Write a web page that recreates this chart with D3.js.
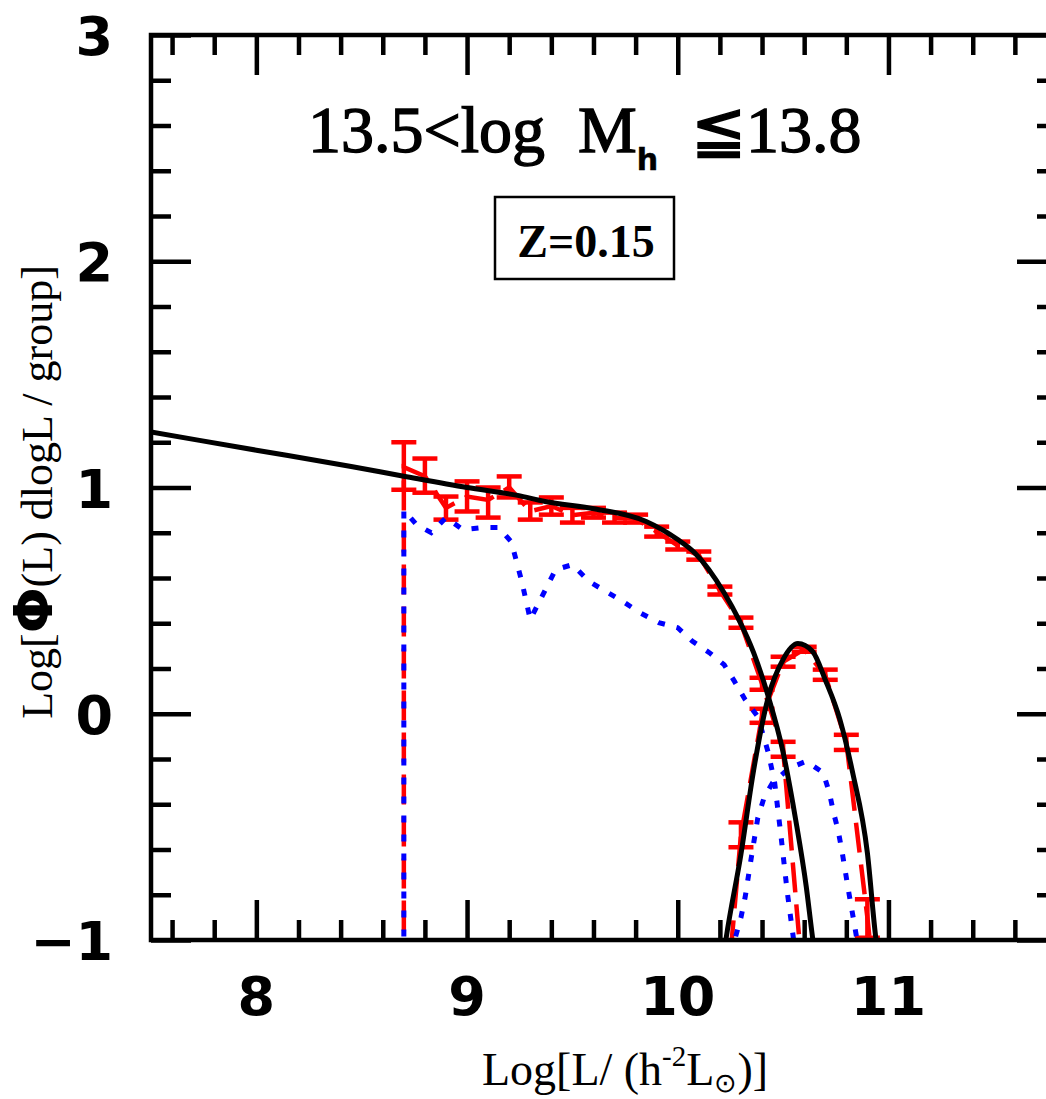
<!DOCTYPE html>
<html>
<head>
<meta charset="utf-8">
<script src="https://cdn.jsdelivr.net/npm/d3@7"></script>
<style>
  html, body { margin: 0; padding: 0; background: #fff; }
  svg { display: block; }
  text { white-space: pre; }
</style>
</head>
<body>
<svg id="chart" width="1046" height="1099"></svg>
<script>
// tick values
const xMajor = [8, 9, 10, 11];
const yMajor = [-1, 0, 1, 2, 3];

// satellite data: bin centres, error bar ends, connecting values
const satX  = [8.7, 8.8, 8.9, 9.0, 9.1, 9.2, 9.3, 9.4, 9.5, 9.6, 9.7, 9.8, 9.9, 10.0, 10.1, 10.2, 10.3, 10.4, 10.5];
const satLo = [0.99, 0.977, 0.858, 0.894, 0.867, 0.956, 0.858, 0.88, 0.845, 0.867, 0.845, 0.845, 0.783, 0.726, 0.681, 0.527, 0.38, 0.106, -0.19];
const satHi = [1.20, 1.128, 0.96, 1.027, 1.0, 1.049, 0.934, 0.956, 0.91, 0.91, 0.889, 0.88, 0.827, 0.761, 0.717, 0.562, 0.425, 0.159, -0.124];
const satLine = [[8.7, -3], [8.7, 1.09], [8.8, 1.05], [8.9, 0.91], [9.0, 0.96], [9.1, 0.945], [9.2, 1.0], [9.3, 0.895],
  [9.4, 0.918], [9.5, 0.878], [9.6, 0.888], [9.7, 0.867], [9.8, 0.862], [9.9, 0.805], [10.0, 0.743], [10.1, 0.70],
  [10.2, 0.545], [10.3, 0.40], [10.4, 0.132], [10.5, -0.157], [10.6, -1.25]];

// central data
const cenX  = [10.3, 10.4, 10.5, 10.6, 10.7, 10.8, 10.9];
const cenLo = [-0.59, -0.04, 0.208, 0.274, 0.150, -0.16, -0.99];
const cenHi = [-0.48, 0.022, 0.252, 0.296, 0.195, -0.093, -0.82];
const cenLine = [[10.2, -1.6], [10.3, -0.535], [10.4, -0.01], [10.5, 0.23], [10.6, 0.285], [10.7, 0.17],
  [10.8, -0.125], [10.9, -0.9], [11.0, -1.8]];

// model (blue dotted)
const satModel = [[8.7, -3], [8.7, 0.90], [8.76, 0.836], [8.83, 0.80], [8.9, 0.867], [8.98, 0.814], [9.07, 0.823],
  [9.15, 0.823], [9.21, 0.76], [9.26, 0.584], [9.30, 0.416], [9.34, 0.49], [9.42, 0.637], [9.50, 0.659],
  [9.58, 0.584], [9.66, 0.54], [9.74, 0.496], [9.82, 0.447], [9.91, 0.403], [10.0, 0.38], [10.07, 0.32],
  [10.15, 0.27], [10.22, 0.217], [10.27, 0.142], [10.32, 0.062], [10.38, -0.013], [10.43, -0.173],
  [10.46, -0.305], [10.49, -0.54], [10.52, -0.79], [10.55, -1.0], [10.57, -1.2]];
const cenModel = [[10.25, -1.15], [10.27, -1.0], [10.30, -0.9], [10.32, -0.81], [10.35, -0.63], [10.38, -0.46],
  [10.41, -0.37], [10.45, -0.305], [10.53, -0.24], [10.61, -0.21], [10.69, -0.26], [10.72, -0.35],
  [10.74, -0.44], [10.76, -0.51], [10.78, -0.61], [10.81, -0.78], [10.84, -0.94], [10.86, -1.05]];

// fits (black solid)
const satFit = [[7.5, 1.245], [8.0, 1.165], [8.45, 1.093], [8.7, 1.05], [9.0, 1.0], [9.24, 0.965], [9.37, 0.938],
  [9.61, 0.905], [9.85, 0.85], [10.0, 0.77], [10.08, 0.712], [10.22, 0.535], [10.29, 0.416], [10.36, 0.27],
  [10.43, 0.075], [10.50, -0.17], [10.56, -0.47], [10.61, -0.765], [10.64, -0.99], [10.66, -1.12]];
const cenFit = [[10.21, -1.12], [10.23, -0.99], [10.30, -0.62], [10.36, -0.25], [10.43, 0.075], [10.50, 0.24],
  [10.57, 0.31], [10.64, 0.275], [10.70, 0.15], [10.77, -0.027], [10.83, -0.26], [10.90, -0.615],
  [10.94, -0.99], [10.96, -1.12]];

const svg = d3.select('#chart');
const plotLeft = 151, plotTop = 35, plotBottom = 940;
const x = d3.scaleLinear().domain([7.5, 11.8]).range([plotLeft, plotLeft + 4.3 * 210.7]);
const y = d3.scaleLinear().domain([-1, 3]).range([plotBottom, plotTop]);
const plotRight = x(11.8);

svg.append('defs').append('clipPath').attr('id', 'plot')
  .append('rect').attr('x', plotLeft).attr('y', plotTop)
  .attr('width', plotRight - plotLeft).attr('height', plotBottom - plotTop);

const plot = svg.append('g').attr('clip-path', 'url(#plot)');
const line = d3.line().x(d => x(d[0])).y(d => y(d[1]));
const smooth = d3.line().x(d => x(d[0])).y(d => y(d[1])).curve(d3.curveMonotoneX);

// red dashed data lines
[satLine, cenLine].forEach(pts => {
  plot.append('path').attr('d', line(pts)).attr('fill', 'none')
    .attr('stroke', '#ff0000').attr('stroke-width', 4.5).attr('stroke-dasharray', '30,12');
});

// error bars
const drawBars = (xs, lo, hi) => {
  const g = plot.append('g').attr('stroke', '#ff0000').attr('stroke-width', 4.5);
  xs.forEach((v, i) => {
    const cx = x(v);
    g.append('line').attr('x1', cx).attr('x2', cx).attr('y1', y(lo[i])).attr('y2', y(hi[i]));
    [lo[i], hi[i]].forEach(e => {
      g.append('line').attr('x1', cx - 12.5).attr('x2', cx + 12.5).attr('y1', y(e)).attr('y2', y(e));
    });
  });
};
drawBars(satX, satLo, satHi);
drawBars(cenX, cenLo, cenHi);

// blue dotted model
[satModel, cenModel].forEach(pts => {
  plot.append('path').attr('d', line(pts)).attr('fill', 'none')
    .attr('stroke', '#0000ff').attr('stroke-width', 5).attr('stroke-dasharray', '7,12');
});

// black fits
[satFit, cenFit].forEach(pts => {
  plot.append('path').attr('d', smooth(pts)).attr('fill', 'none')
    .attr('stroke', '#000').attr('stroke-width', 5).attr('stroke-linejoin', 'round');
});

// frame
svg.append('rect').attr('x', plotLeft).attr('y', plotTop)
  .attr('width', plotRight - plotLeft).attr('height', plotBottom - plotTop)
  .attr('fill', 'none').attr('stroke', '#000').attr('stroke-width', 4.5);

// ticks
const xMinor = d3.range(7.6, 11.8, 0.2).map(v => +v.toFixed(1)).filter(v => !xMajor.includes(v));
const yMinor = d3.range(-0.8, 3, 0.2).map(v => +v.toFixed(1)).filter(v => !yMajor.includes(v));

const tickAxis = (axis, vals, size, tx, ty) => {
  const g = svg.append('g').attr('transform', `translate(${tx},${ty})`)
    .call(axis.tickValues(vals).tickSizeInner(size).tickSizeOuter(0).tickFormat(''));
  g.select('.domain').remove();
  g.selectAll('.tick line').attr('stroke-width', 4.5);
  return g;
};
tickAxis(d3.axisBottom(x), xMajor, -40, 0, plotBottom);
tickAxis(d3.axisBottom(x), xMinor, -20, 0, plotBottom);
tickAxis(d3.axisTop(x), xMajor, -40, 0, plotTop);
tickAxis(d3.axisTop(x), xMinor, -20, 0, plotTop);
tickAxis(d3.axisLeft(y), yMajor, -40, plotLeft, 0);
tickAxis(d3.axisLeft(y), yMinor, -20, plotLeft, 0);
tickAxis(d3.axisRight(y), yMajor, -40, plotRight, 0);
tickAxis(d3.axisRight(y), yMinor, -20, plotRight, 0);

// tick labels
const tickFont = 'DejaVu Sans';
svg.append('g').selectAll('text').data(xMajor).join('text')
  .attr('x', d => x(d)).attr('y', 1015).attr('text-anchor', 'middle')
  .attr('font-family', tickFont).attr('font-weight', 'bold').attr('font-size', 54)
  .text(d => d);
svg.append('g').selectAll('text').data(yMajor).join('text')
  .attr('x', 113).attr('y', d => y(d) + 20).attr('text-anchor', 'end')
  .attr('font-family', tickFont).attr('font-weight', 'bold').attr('font-size', 54)
  .text(d => d < 0 ? '\u2212' + Math.abs(d) : d);

// axis titles
const xt = svg.append('text').attr('x', 625).attr('y', 1085).attr('text-anchor', 'middle')
  .attr('font-family', 'Liberation Serif').attr('font-size', 46);
xt.append('tspan').text('Log[L/ (h');
xt.append('tspan').attr('font-size', 29).attr('dy', -19).text('-2');
xt.append('tspan').attr('dy', 19).text('L');
xt.append('tspan').attr('font-size', 27).attr('dy', 7).text('\u2299');
xt.append('tspan').attr('dy', -7).text(')]');

const yt = svg.append('text').attr('transform', 'translate(52,492) rotate(-90)').attr('text-anchor', 'middle')
  .attr('font-family', 'Liberation Serif').attr('font-size', 44);
yt.append('tspan').text('Log[');
yt.append('tspan').attr('font-family', 'DejaVu Sans').attr('font-weight', 'bold').attr('font-size', 54).text('\u03A6');
yt.append('tspan').text('(L) dlogL / group]');

// panel title
const tt = svg.append('text').attr('x', 308).attr('y', 152)
  .attr('font-family', 'Liberation Serif').attr('font-size', 66)
  .attr('stroke', '#000').attr('stroke-width', 1.4);
tt.append('tspan').text('13.5<log  M');
tt.append('tspan').attr('font-family', 'DejaVu Sans').attr('font-weight', 'bold').attr('font-size', 30)
  .attr('dy', 18).attr('stroke-width', 0.5).text('h');
tt.append('tspan').attr('dy', -18).text('  \u226613.8');

// redshift box
svg.append('rect').attr('x', 495).attr('y', 197).attr('width', 179).attr('height', 82)
  .attr('fill', 'none').attr('stroke', '#000').attr('stroke-width', 2.5);
svg.append('text').attr('x', 586).attr('y', 257).attr('text-anchor', 'middle')
  .attr('font-family', 'Liberation Serif').attr('font-weight', 'bold').attr('font-size', 46)
  .text('Z=0.15');
</script>
</body>
</html>
